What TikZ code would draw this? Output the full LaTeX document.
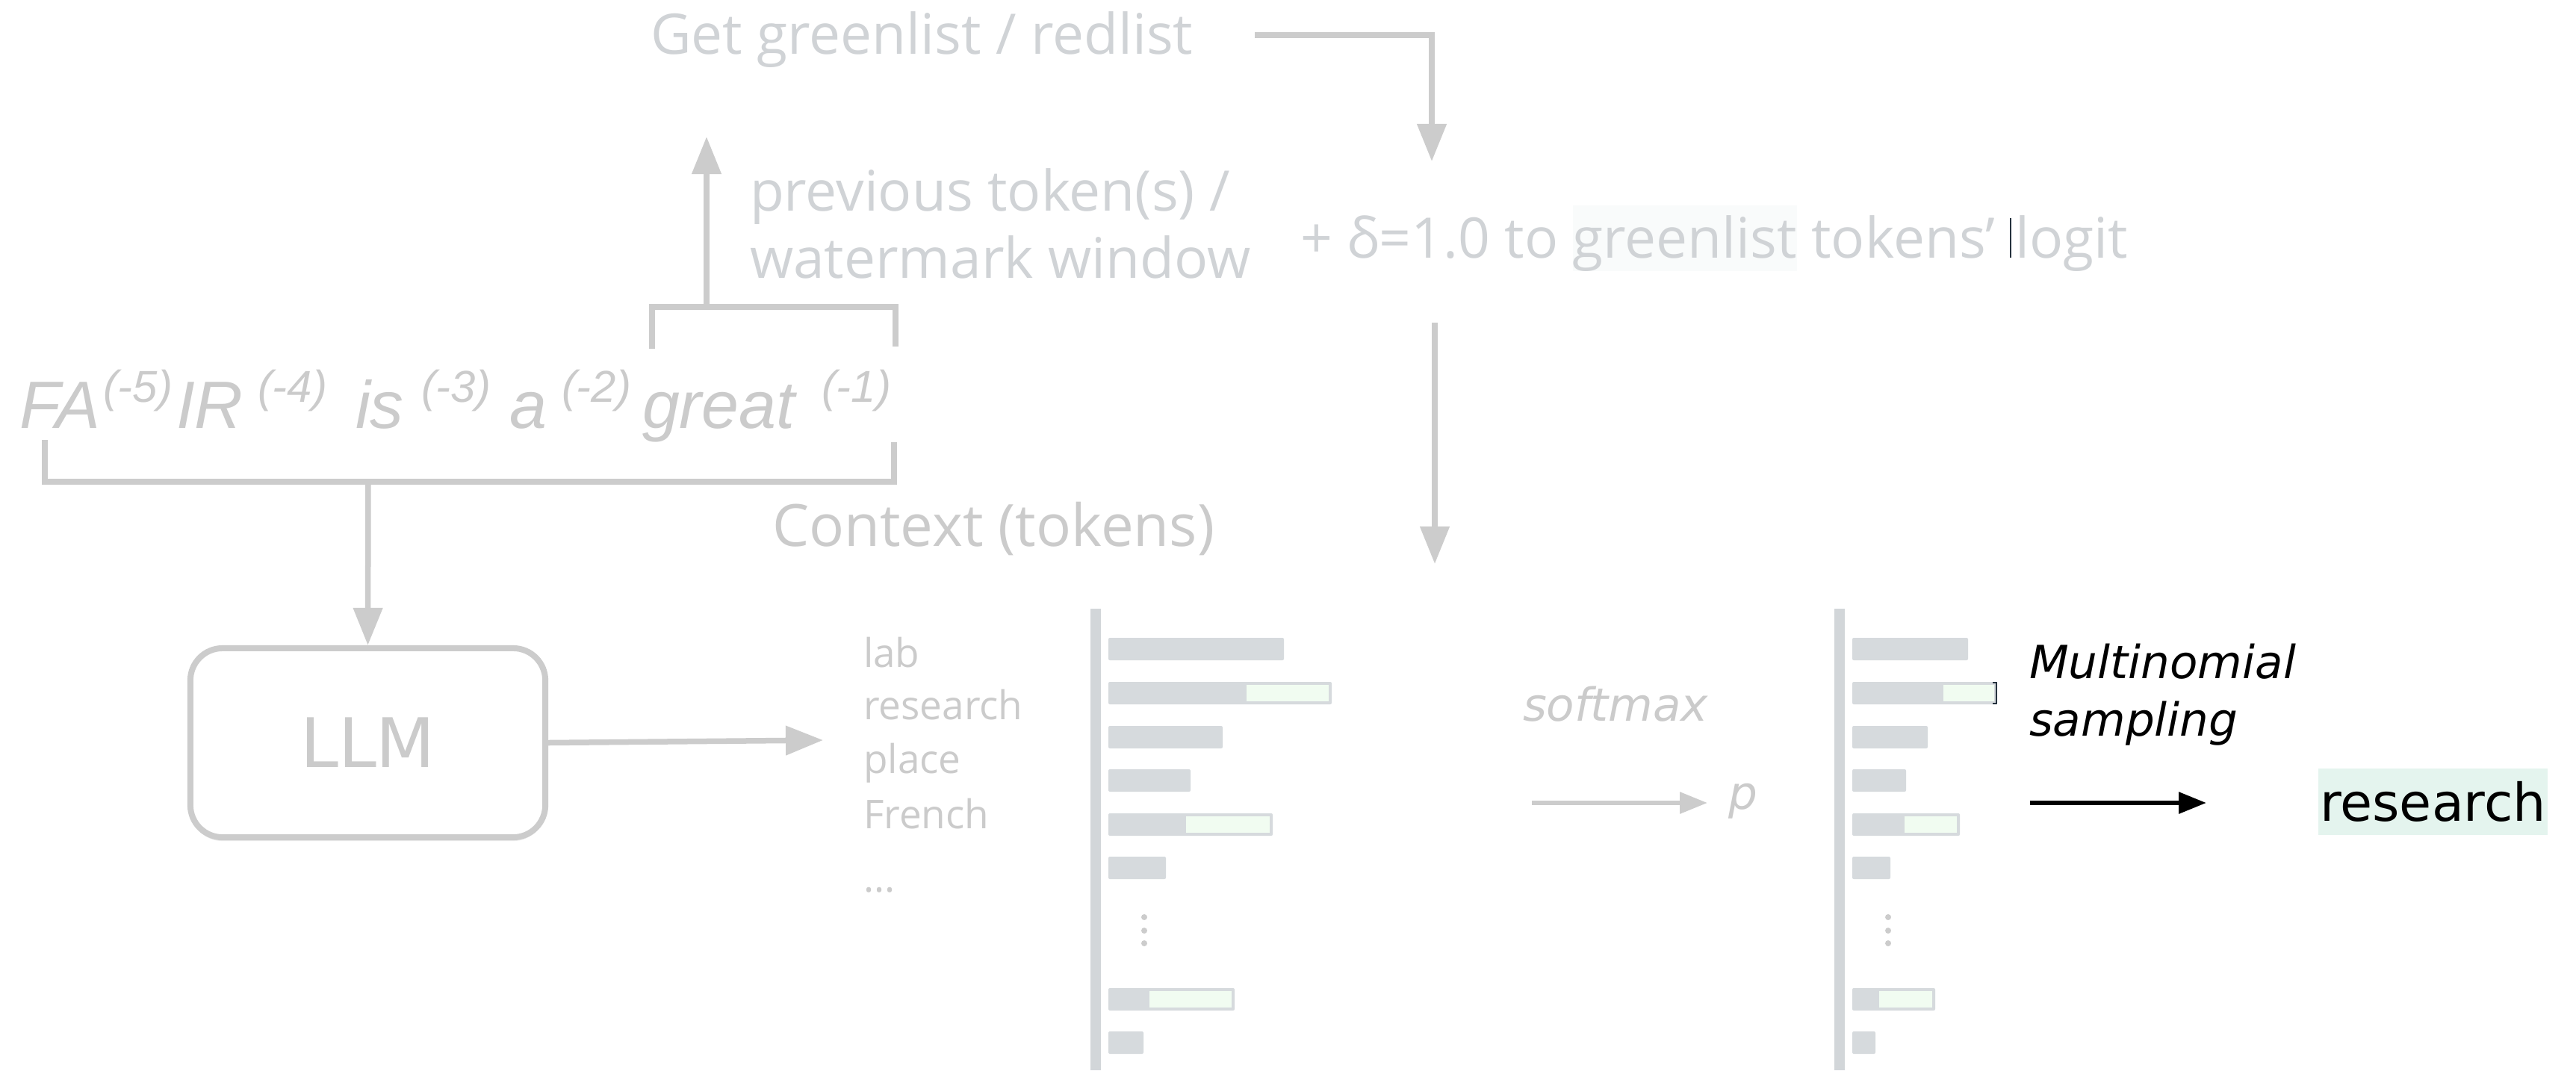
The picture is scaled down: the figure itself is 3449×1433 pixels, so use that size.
\documentclass[tikz,border=0pt]{standalone}
\usepackage{fontspec}
\setmainfont{Open Sans}
\newfontfamily\ctxfont{Liberation Sans}
\newfontfamily\dvfont{DejaVu Sans}
\usetikzlibrary{arrows.meta,shadows}

\definecolor{linegray}{HTML}{CCCCCC}
\definecolor{labelgray}{HTML}{D0D3D6}
\definecolor{textgray}{HTML}{CBCBCB}
\definecolor{axisgray}{HTML}{D2D6D9}
\definecolor{bargray}{HTML}{D6DADD}
\definecolor{greenfill}{HTML}{F1FCF1}
\definecolor{pickfill}{HTML}{E4F4EE}
\definecolor{hlfill}{HTML}{F9FBFB}
\definecolor{caret}{HTML}{26323E}

\tikzset{
  txt/.style={inner sep=0pt, outer sep=0pt, anchor=base west},
  biglabel/.style={txt, text=labelgray, font=\fontsize{21.3pt}{25pt}\selectfont},
  ctxlabel/.style={txt, text=textgray, font=\fontsize{22.2pt}{26pt}\selectfont},
  tokword/.style={txt, text=textgray, font=\fontsize{15.1pt}{18pt}\selectfont},
  ctxtok/.style={txt, text=textgray, font=\ctxfont\itshape\fontsize{25.5pt}{30pt}\selectfont},
  ctxsup/.style={txt, text=textgray, font=\ctxfont\itshape\fontsize{17pt}{20pt}\selectfont},
  obl/.style={txt, font=\dvfont\itshape\fontsize{17.4pt}{21pt}\selectfont},
  flow/.style={draw=linegray, line width=0.075cm, -{Triangle[length=0.5cm, width=0.38cm]}},
  thinflow/.style={line width=0.06cm, -{Triangle[length=0.37cm, width=0.28cm]}},
  bracket/.style={draw=linegray, line width=0.075cm},
  llmbox/.style={draw=linegray, fill=white, line width=0.08cm, rounded corners=0.43cm,
    minimum width=4.75cm, minimum height=2.53cm, inner sep=0pt,
    text=textgray, font=\dvfont\fontsize{26pt}{30pt}\selectfont,
    drop shadow={shadow xshift=0cm, shadow yshift=-0.05cm, opacity=0.08, fill=black}},
  bar/.style={fill=bargray, rounded corners=0.02cm},
  greenpart/.style={fill=greenfill},
}

\begin{document}
\begin{tikzpicture}[x=0.01cm, y=-0.01cm]
\useasboundingbox (0,0) rectangle (3449,1433);
\fill[white] (0,0) rectangle (3449,1433);

% ---------- upper labels ----------
\node[biglabel] (getlist) at (871,72) {Get greenlist / redlist};
\node[biglabel] (prev1) at (1004,282) {previous token(s) /};
\node[biglabel] (prev2) at (1004,372) {watermark window};
\node[biglabel] (delta) at (1741,345) {+ δ=1.0 to {\setlength\fboxsep{0pt}\colorbox{hlfill}{\rule[-0.18cm]{0pt}{0.88cm}greenlist}} tokens’ {\color{caret}\rule{0.025cm}{0.53cm}}\kern0.05cm logit};

% greenlist lookup feeds the logit bias
\coordinate (glstart) at (1680,47);
\coordinate (gltip) at (1917,216);
\draw[flow] (glstart) -| (gltip);

% bias applied to the logits
\coordinate (biastop) at (1921,432);
\coordinate (biastip) at (1921,755);
\draw[flow] (biastop) -- (biastip);

% ---------- context tokens ----------
\node[ctxtok] (tFA) at (26,573) {FA};
\node[ctxsup] (s5) at (138,538) {(-5)};
\node[ctxtok] (tIR) at (236,573) {IR};
\node[ctxsup] (s4) at (345,538) {(-4)};
\node[ctxtok] (tis) at (476,573) {is};
\node[ctxsup] (s3) at (564,538) {(-3)};
\node[ctxtok] (ta) at (682,573) {a};
\node[ctxsup] (s2) at (752,538) {(-2)};
\node[ctxtok] (tgreat) at (860,573) {great};
\node[ctxsup] (s1) at (1100,538) {(-1)};

\node[ctxlabel] (ctxname) at (1034,731) {Context (tokens)};

% watermark window bracket and its arrow
\draw[bracket] (873,467) |- (1199,411) -- (1199,464);
\coordinate (winmid) at (946,411);
\coordinate (wintip) at (946,183);
\draw[flow] (winmid) -- (wintip);

% whole context bracket
\draw[bracket] (60,589) |- (1197,645) -- (1197,592);
\coordinate (ctxmid) at (493,645);

% ---------- model ----------
\node[llmbox] (llm) at (492.5,994.5) {LLM};
\draw[flow] (ctxmid) -- (llm.north);
\coordinate (logits) at (1102,991);
\draw[flow] (llm.east) -- (logits);

% ---------- vocabulary ----------
\node[tokword] (wlab) at (1156,893) {lab};
\node[tokword] (wresearch) at (1156,963) {research};
\node[tokword] (wplace) at (1156,1035) {place};
\node[tokword] (wfrench) at (1156,1109) {French};
\node[tokword] (wmore) at (1156,1194) {...};

% ---------- logit bars ----------
\fill[axisgray] (1460,815) rectangle (1474,1433);
\foreach \t/\e in {854/1719, 913/1783, 972/1637, 1030/1594, 1089/1704, 1147/1561, 1323/1653, 1381/1531}
  \fill[bar] (1484,\t) rectangle (\e,\t+30);
\foreach \t/\g/\e in {913/1669/1779, 1089/1588/1700, 1323/1539/1649}
  \fill[greenpart] (\g,\t+4) rectangle (\e,\t+26);
\foreach \y in {1228,1246,1263}
  \fill[linegray] (1532,\y) circle (0.04cm);

% ---------- softmax ----------
\node[obl, text=textgray] (softmax) at (2039,965) {softmax};
\coordinate (sm1) at (2051,1075);
\coordinate (sm2) at (2286,1075);
\draw[thinflow, draw=linegray, fill=linegray] (sm1) -- (sm2);
\node[obl, text=textgray] (pdist) at (2314,1083) {p};

% ---------- probability bars ----------
\fill[axisgray] (2456,815) rectangle (2470,1433);
\foreach \t/\e in {854/2635, 913/2674, 972/2581, 1030/2552, 1089/2624, 1147/2531, 1323/2591, 1381/2511}
  \fill[bar] (2480,\t) rectangle (\e,\t+30);
\foreach \t/\g/\e in {913/2602/2670, 1089/2550/2620, 1323/2516/2587}
  \fill[greenpart] (\g,\t+4) rectangle (\e,\t+26);
\draw[caret, line width=0.022cm] (2668,914) -- (2673,914) -- (2673,942) -- (2668,942);
\foreach \y in {1228,1246,1263}
  \fill[linegray] (2528,\y) circle (0.04cm);

% ---------- sampling ----------
\node[obl] (multi) at (2717,908) {Multinomial};
\node[obl] (sampling) at (2717,985) {sampling};
\coordinate (ms1) at (2718,1075);
\coordinate (ms2) at (2954,1075);
\draw[thinflow, draw=black, fill=black] (ms1) -- (ms2);
\node[fill=pickfill, minimum width=3.07cm, minimum height=0.89cm, inner sep=0pt,
      font=\dvfont\fontsize{19.9pt}{24pt}\selectfont] (picked) at (3257.5,1073.5) {research};
\end{tikzpicture}
\end{document}
